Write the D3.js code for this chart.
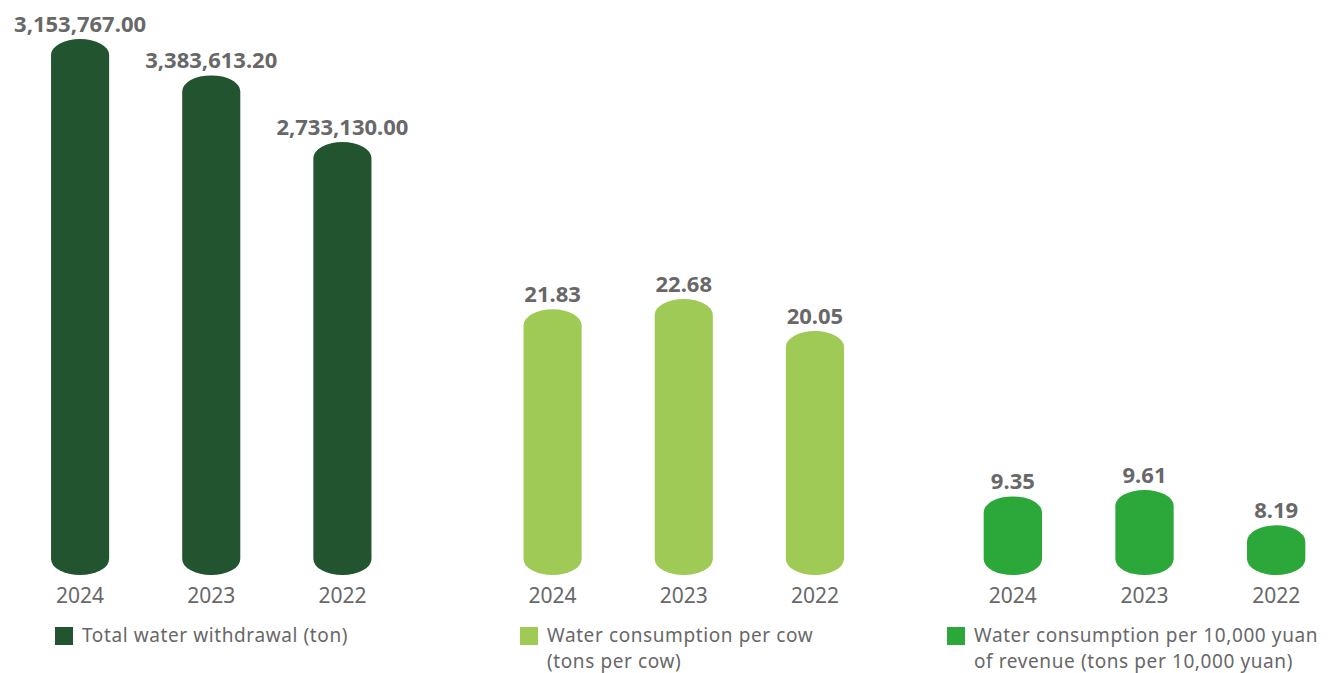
<!DOCTYPE html>
<html>
<head>
<meta charset="utf-8">
<script src="https://cdn.jsdelivr.net/npm/d3@7"></script>
<style>
  html, body { margin: 0; padding: 0; background: #ffffff; }
  svg { display: block; }
</style>
</head>
<body>
<svg id="chart" width="1341" height="673"></svg>
<script>
// ---- data ----
const years = ["2024", "2023", "2022"];

// Total water withdrawal (ton): bar lengths as drawn in the reference, and the value labels printed above them
const withdrawalBars = [3383613.20, 3153767.00, 2733130.00];
const withdrawalLabels = ["3,153,767.00", "3,383,613.20", "2,733,130.00"];

// Water consumption per cow (tons per cow)
const perCow = [21.83, 22.68, 20.05];
const perCowLabels = ["21.83", "22.68", "20.05"];

// Water consumption per 10,000 yuan of revenue
const perRevenue = [9.35, 9.61, 8.19];
const perRevenueLabels = ["9.35", "9.61", "8.19"];

const legendLines = [
  ["Total water withdrawal (ton)"],
  ["Water consumption per cow", "(tons per cow)"],
  ["Water consumption per 10,000 yuan", "of revenue (tons per 10,000 yuan)"]
];

// ---- layout / style ----
const colors = ["#235430", "#9fca55", "#2ca83b"];
const textColor = "#686868";
const baseY = 575;
const rx = 29, ry = 16;

const groups = [
  { values: withdrawalBars, labels: withdrawalLabels, range: [14.5, 408], domain: [0, 3383613.2], maxH: 536, legendX: 55 },
  { values: perCow, labels: perCowLabels, range: [487, 880.5], domain: [0, 22.68], maxH: 276, legendX: 520 },
  { values: perRevenue, labels: perRevenueLabels, range: [947, 1342], domain: [6.2, 9.61], maxH: 85, legendX: 947 }
];

const svg = d3.select("#chart");
const font = "'Noto Sans', 'DejaVu Sans', sans-serif";

function capsule(x0, x1, top, bottom) {
  return `M${x0},${top + ry} A${rx},${ry} 0 0 1 ${x1},${top + ry} L${x1},${bottom - ry} A${rx},${ry} 0 0 1 ${x0},${bottom - ry} Z`;
}

groups.forEach((g, gi) => {
  const x = d3.scaleBand().domain(years).range(g.range).paddingInner(0.557).paddingOuter(0.2785);
  const h = d3.scaleLinear().domain(g.domain).range([0, g.maxH]);
  const bw = x.bandwidth();

  const gg = svg.append("g");
  const rows = years.map((yr, i) => ({ yr, v: g.values[i], label: g.labels[i] }));

  gg.selectAll("path.bar").data(rows).join("path")
    .attr("class", "bar")
    .attr("fill", colors[gi])
    .attr("d", d => {
      const x0 = x(d.yr);
      const top = baseY - h(d.v);
      return capsule(x0, x0 + bw, top, baseY);
    });

  gg.selectAll("text.val").data(rows).join("text")
    .attr("class", "val")
    .attr("x", d => x(d.yr) + bw / 2)
    .attr("y", d => baseY - h(d.v) - 7)
    .attr("text-anchor", "middle")
    .attr("font-family", font)
    .attr("font-weight", 700)
    .attr("font-size", 22)
    .attr("fill", textColor)
    .text(d => d.label);

  // x axis labels (year)
  const axis = d3.axisBottom(x).tickSize(0).tickPadding(0);
  const ag = gg.append("g").attr("transform", `translate(0,${baseY})`).call(axis);
  ag.select(".domain").remove();
  ag.selectAll("text")
    .attr("y", 27.5)
    .attr("dy", null)
    .attr("font-family", font)
    .attr("font-size", 21)
    .attr("fill", textColor);

  // legend
  const lg = gg.append("g").attr("transform", `translate(${g.legendX},627)`);
  lg.append("rect").attr("width", 18).attr("height", 18).attr("fill", colors[gi]);
  const lt = lg.append("text")
    .attr("x", 27)
    .attr("y", 14.5)
    .attr("font-family", font)
    .attr("font-size", 19)
    .attr("letter-spacing", 0.6)
    .attr("fill", textColor);
  lt.selectAll("tspan").data(legendLines[gi]).join("tspan")
    .attr("x", 27)
    .attr("dy", (d, i) => i === 0 ? 0 : 26)
    .text(d => d);
});
</script>
</body>
</html>
